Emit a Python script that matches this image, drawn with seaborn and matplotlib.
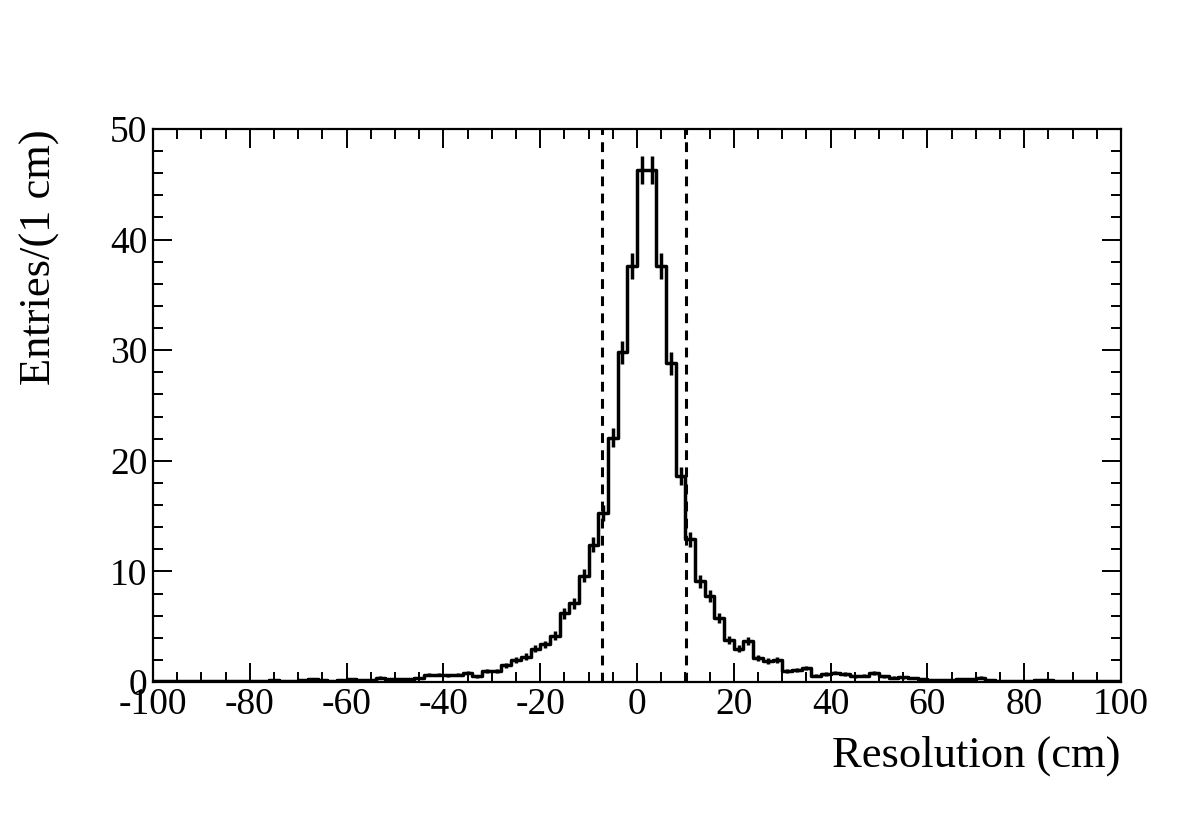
import numpy as np
import matplotlib
matplotlib.use("Agg")
import matplotlib.pyplot as plt
import seaborn as sns
from matplotlib.ticker import MultipleLocator

# bin lower edges (2 cm bins from -100 to 100) and contents
bin_lo = list(range(-100, 100, 2))
counts = [
    0.10, 0.10, 0.05, 0.10, 0.10, 0.05, 0.10, 0.10, 0.05, 0.10,   # -100 .. -82
    0.10, 0.10, 0.15, 0.10, 0.10, 0.20, 0.30, 0.15, 0.10, 0.20,   # -80 .. -62
    0.30, 0.20, 0.15, 0.40, 0.30, 0.30, 0.30, 0.35, 0.65, 0.65,   # -60 .. -42
    0.60, 0.65, 0.85, 0.50, 1.00, 1.00, 1.50, 2.00, 2.30, 3.00,   # -40 .. -22
    3.40, 4.20, 6.20, 7.10, 9.60, 12.40, 15.30, 22.10, 29.80, 37.60,  # -20 .. -2
    46.30, 46.30, 37.60, 28.80, 18.60, 12.90, 9.10, 7.80, 5.80, 3.80,  # 0 .. 18
    3.00, 3.70, 2.20, 1.90, 2.00, 1.00, 1.10, 1.25, 0.55, 0.72,   # 20 .. 38
    0.85, 0.70, 0.50, 0.55, 0.80, 0.50, 0.40, 0.42, 0.36, 0.30,   # 40 .. 58
    0.20, 0.15, 0.15, 0.30, 0.25, 0.40, 0.20, 0.12, 0.12, 0.10,   # 60 .. 78
    0.10, 0.20, 0.20, 0.10, 0.10, 0.10, 0.10, 0.10, 0.05, 0.05,   # 80 .. 98
]
errors = [
    0.06, 0.06, 0.04, 0.06, 0.06, 0.04, 0.06, 0.06, 0.04, 0.06,
    0.06, 0.06, 0.07, 0.06, 0.06, 0.09, 0.10, 0.07, 0.06, 0.09,
    0.10, 0.09, 0.07, 0.12, 0.10, 0.10, 0.10, 0.11, 0.15, 0.15,
    0.15, 0.15, 0.17, 0.13, 0.19, 0.19, 0.23, 0.27, 0.29, 0.33,
    0.35, 0.39, 0.47, 0.51, 0.59, 0.67, 0.74, 0.89, 1.04, 1.17,
    1.29, 1.29, 1.17, 1.02, 0.82, 0.68, 0.57, 0.53, 0.46, 0.37,
    0.33, 0.37, 0.28, 0.26, 0.27, 0.19, 0.20, 0.21, 0.14, 0.16,
    0.17, 0.16, 0.13, 0.14, 0.17, 0.13, 0.12, 0.12, 0.11, 0.10,
    0.09, 0.07, 0.07, 0.10, 0.09, 0.12, 0.09, 0.07, 0.07, 0.06,
    0.06, 0.09, 0.09, 0.06, 0.06, 0.06, 0.06, 0.06, 0.04, 0.04,
]
bin_width = 2
cut_lines = [-7.2, 10.1]

edges = bin_lo + [bin_lo[-1] + bin_width]
centers = [b + bin_width / 2 for b in bin_lo]

sns.set_style("ticks")
plt.rcParams["font.family"] = ["Liberation Serif", "DejaVu Serif"]
plt.rcParams["axes.unicode_minus"] = False
for key in ["text.color", "axes.labelcolor", "xtick.color", "ytick.color", "axes.edgecolor"]:
    plt.rcParams[key] = "black"

fig = plt.figure(figsize=(11.82, 8.13), dpi=100)
ax = fig.add_axes([153 / 1182, 131 / 813, (1121 - 153) / 1182, (682 - 129) / 813])

sns.histplot(x=centers, weights=counts, bins=edges, element="step", fill=False,
             color="black", linewidth=2.5, ax=ax)
ax.errorbar(centers, counts, yerr=errors, fmt="none", ecolor="black",
            elinewidth=2.5, capsize=0)

for xc in cut_lines:
    ax.axvline(xc, color="black", linestyle=(0, (3.2, 2.4)), linewidth=2.2)

ax.set_xlim(-100, 100)
ax.set_ylim(0, 50)
ax.xaxis.set_major_locator(MultipleLocator(20))
ax.xaxis.set_minor_locator(MultipleLocator(5))
ax.yaxis.set_major_locator(MultipleLocator(10))
ax.yaxis.set_minor_locator(MultipleLocator(2))

ax.tick_params(axis="both", which="both", direction="in", top=True, right=True,
               labelsize=27, width=1.4, color="black", labelcolor="black")
ax.tick_params(axis="x", which="major", length=14, pad=4)
ax.tick_params(axis="x", which="minor", length=7)
ax.tick_params(axis="y", which="major", length=14, pad=4)
ax.tick_params(axis="y", which="minor", length=7)
for sp in ax.spines.values():
    sp.set_linewidth(1.6)
    sp.set_color("black")

ax.set_xlabel("Resolution (cm)", fontsize=32, loc="right", labelpad=10)
ax.set_ylabel("Entries/(1 cm)", fontsize=32, loc="top", labelpad=36)

fig.savefig("out.png", dpi=100, facecolor="white")
